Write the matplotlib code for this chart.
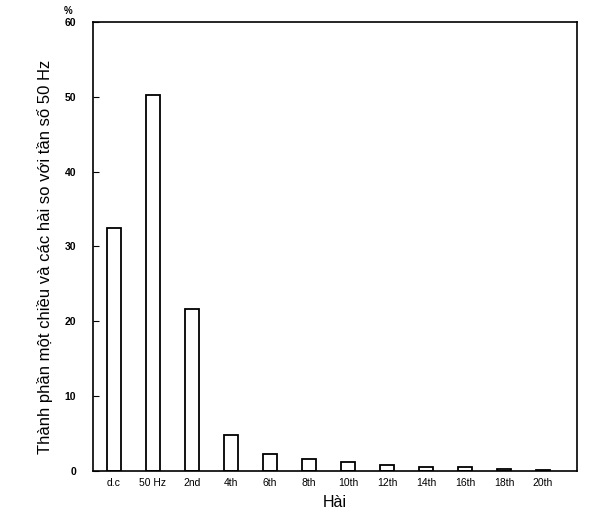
import matplotlib
matplotlib.use("Agg")
import matplotlib.pyplot as plt
import numpy as np

categories = ["d.c", "50 Hz", "2nd", "4th", "6th", "8th", "10th", "12th", "14th", "16th", "18th", "20th"]
values = [32.5, 50.2, 21.6, 4.8, 2.3, 1.6, 1.2, 0.8, 0.5, 0.5, 0.3, 0.2]
yticks = [0, 10, 20, 30, 40, 50, 60]

plt.rcParams['font.family'] = ['Liberation Sans', 'DejaVu Sans']

fig = plt.figure(figsize=(6.15, 5.18), dpi=100)
ax = fig.add_axes([0.151, 0.0907, 0.787, 0.867])

x = np.arange(len(categories))
ax.bar(x, values, width=0.36, facecolor='white', edgecolor='black', linewidth=1.3)

ax.set_xlim(-0.54, 11.87)
ax.set_ylim(0, 60)
ax.set_yticks(yticks)
ax.set_yticklabels([str(t) for t in yticks], fontsize=7.5, fontweight='bold')
ax.set_xticks(x)
ax.set_xticklabels(categories, fontsize=7.5)
ax.tick_params(axis='y', direction='in', length=4, pad=12)
ax.tick_params(axis='x', length=0, pad=5)
for s in ax.spines.values():
    s.set_linewidth(1.2)

ax.set_xlabel("Hài", fontsize=11.5, labelpad=5)
fig.text(45/615, 1 - 257/518, "Thành phần một chiều và các hài so với tần số 50 Hz",
         fontsize=12, rotation=90, ha='center', va='center')
fig.text(68/615, 1 - 11/518, "%", fontsize=7, fontweight='bold', ha='center', va='center')

fig.savefig("out.png", dpi=100)
